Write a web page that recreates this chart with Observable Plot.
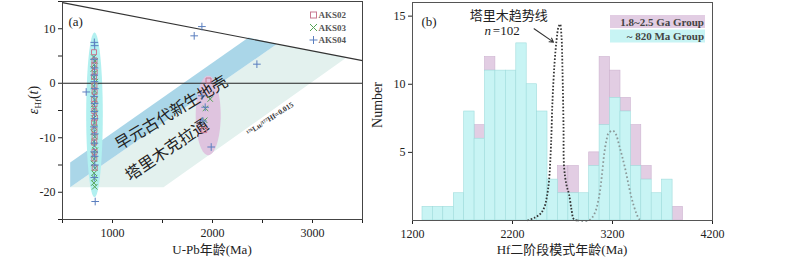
<!DOCTYPE html>
<html><head><meta charset="utf-8">
<script src="https://cdn.jsdelivr.net/npm/d3@7"></script>
<script src="https://cdn.jsdelivr.net/npm/@observablehq/plot@0.6"></script>
<style>
body{margin:0;background:#fff;}
#wrap{display:flex;width:800px;height:258px;overflow:hidden;}
#wrap svg{display:block;}
</style></head><body><div id="wrap"></div>
<script>
// ---------- Panel (a): U-Pb age vs eHf(t) ----------
const aks02Age = [815,820,818,822,816,819,821,817,820,818,823,816,819,821,817,820,818,822,1960,1917];
const aks02Eps = [5.7,4.2,3.3,2.1,1.2,-0.4,-1.6,-2.9,-3.8,-5.1,-6.3,-7.2,-8.6,-9.8,-10.9,-12.6,-13.8,-15.5,0.5,-8.6];
const aks03Age = [812,825,818,808,822,815,828,810,820,816,824,812,819,826,814,821,817,809,823,815,820,827,813,818,811,824,816,820,814,822,1977,1930,1922];
const aks03Eps = [4.8,4.1,3.4,2.6,1.9,1.1,0.3,-0.5,-1.4,-2.2,-3.0,-3.9,-4.7,-5.5,-6.4,-7.3,-8.1,-9.0,-9.8,-10.7,-11.5,-12.3,-13.1,-13.9,-14.7,-15.6,-16.5,-17.4,-18.3,-19.0,-2.9,-4.6,-6.8];
const aks04Age = [818,822,815,820,817,737,819,823,816,821,818,820,815,822,819,817,821,823,818,827,1817,1894,2444,1894,1927,1903,1987];
const aks04Eps = [7.5,6.9,4.4,2.8,1.5,-1.6,0.3,-1.0,-2.4,-3.7,-5.2,-6.5,-8.0,-9.3,-11.0,-12.6,-13.4,-15.0,-17.3,-21.7,8.7,10.4,3.5,-2.3,-4.4,-6.9,-11.7];
// depleted-mantle line and evolution bands (age, eHf)
const dmAge = [500, 3500];
const dmEps = [14.8, 4.15];
const juvenileAge = [577, 577, 2644, 2360];
const juvenileEps = [-14.55, -19.09, 7.2, 8.41];
const cratonAge = [577, 1510, 3344, 2644];
const cratonEps = [-19.09, -19.09, 4.75, 7.2];
// group ellipses: [centre age, centre eHf, half-width Ma, half-height eHf]
const ellipse820 = [820, -5.8, 83, 15.1];
const ellipse2000 = [1957, -5.9, 125, 7.3];

// ---------- Panel (b): Hf two-stage model age histogram ----------
const binEdges = [1300,1404,1508,1613,1717,1821,1925,2029,2134,2238,2342,2446,2550,2655,2759,2863,2967,3071,3176,3280,3384,3488,3592,3696,3801,3905];
const count820 = [1,1,1,2,8,6,11,11,11,13,10,8,3,2,2,2,4,7,9,8,4,3,2,3,0];
const countPaleo = [0,0,0,0,0,1,1,0,0,0,0,0,0,2,2,0,1,5,2,1,3,1,0,0,1];
const tarimAge = [2350,2420,2480,2520,2545,2565,2585,2600,2620,2640,2660,2676,2690,2700,2710,2716,2740,2766,2790,2813,2850];
const tarimN   = [0,0.2,0.5,1.0,1.8,2.9,5.5,8.8,11.5,13.2,14.2,14.4,13.5,11,7,3.9,2.6,1.9,0.8,0.1,0];
const kdeAge = [2850,2963,3020,3067,3095,3117,3140,3160,3200,3230,3267,3300,3333,3367,3400,3440,3467,3500];
const kdeN   = [0,0,0.5,1.8,3.4,4.9,5.9,6.4,6.6,6.4,5.5,4.6,3.6,2.4,1.4,0.5,0.1,0];

const serif = "'Liberation Serif','Times New Roman',serif";
const cjk = "'Noto Sans CJK SC','Noto Sans CJK JP',sans-serif";
const mixed = "'Liberation Serif','Noto Sans CJK SC',serif";

const pts = (xs, ys) => xs.map((x, i) => ({x, y: ys[i]}));
function ellipsePts([cx, cy, rx, ry]) {
  return d3.range(0, 361, 4).map(a => ({x: cx + rx * Math.cos(a * Math.PI / 180), y: cy + ry * Math.sin(a * Math.PI / 180)}));
}

const pa = Plot.plot({
  width: 365, height: 258,
  marginLeft: 62, marginRight: 3, marginTop: 1, marginBottom: 39,
  style: {fontFamily: serif, fontSize: "12px", color: "#222", background: "transparent"},
  x: {domain: [500, 3500], label: null},
  y: {domain: [-25, 15], label: null},
  marks: [
    Plot.line(pts(cratonAge, cratonEps), {x: "x", y: "y", fill: "#e3f1ee", stroke: "none"}),
    Plot.line(pts(juvenileAge, juvenileEps), {x: "x", y: "y", fill: "#aad6e8", stroke: "none"}),
    Plot.line(ellipsePts(ellipse820), {x: "x", y: "y", fill: "#b2f0f0", stroke: "none"}),
    Plot.line(ellipsePts(ellipse2000), {x: "x", y: "y", fill: "#dfc4df", stroke: "none"}),
    Plot.ruleY([0], {stroke: "#222", strokeWidth: 1.1}),
    Plot.line(pts(dmAge, dmEps), {x: "x", y: "y", stroke: "#333", strokeWidth: 1.1}),
    Plot.text(["早元古代新生地壳"], {x: 1590, y: -5.5, rotate: -31, fontSize: 16, fontFamily: cjk, fill: "#222"}),
    Plot.text(["塔里木克拉通"], {x: 1545, y: -12.3, rotate: -34, fontSize: 16, fontFamily: cjk, fill: "#222"}),
    Plot.text(["¹⁷⁶Lu/¹⁷⁷Hf=0.015"], {x: 2575, y: -6.5, rotate: -33, fontSize: 7.5, fontWeight: "bold", fill: "#333"}),
    Plot.dot(pts(aks03Age, aks03Eps), {x: "x", y: "y", symbol: "times", stroke: "#55a455", strokeWidth: 1, r: 2.6}),
    Plot.dot(pts(aks02Age, aks02Eps), {x: "x", y: "y", symbol: "square", stroke: "#c87890", fill: "none", strokeWidth: 1, r: 2.8}),
    Plot.dot(pts(aks04Age, aks04Eps), {x: "x", y: "y", symbol: "plus", stroke: "#5b7fbf", strokeWidth: 1, r: 2.6}),
    Plot.text(["(a)"], {frameAnchor: "top-left", dx: 6, dy: 15, textAnchor: "start", fontSize: 13}),
    Plot.axisX({ticks: d3.range(500, 3501, 500), tickFormat: d => d % 1000 === 0 ? String(d) : "", tickSize: 4, tickPadding: 5, label: null}),
    Plot.axisY({ticks: d3.range(-25, 16, 5), tickFormat: d => d % 10 === 0 ? String(d) : "", tickSize: 4, tickPadding: 3, label: null}),
    Plot.frame({stroke: "#444"})
  ]
});

const histRows = [];
count820.forEach((c, i) => {
  histRows.push({x1: binEdges[i], x2: binEdges[i + 1], y1: 0, y2: c, g: "820"});
  if (countPaleo[i] > 0) histRows.push({x1: binEdges[i], x2: binEdges[i + 1], y1: c, y2: c + countPaleo[i], g: "paleo"});
});

const pb = Plot.plot({
  width: 435, height: 258,
  marginLeft: 47, marginRight: 88, marginTop: 2, marginBottom: 38,
  style: {fontFamily: serif, fontSize: "12px", color: "#222", background: "transparent"},
  x: {domain: [1200, 4200], label: null},
  y: {domain: [0, 16], label: null},
  marks: [
    Plot.rect(histRows.filter(d => d.g === "paleo"), {x1: "x1", x2: "x2", y1: "y1", y2: "y2", fill: "#e2cde3", stroke: "#cdb3d0", strokeWidth: 0.6}),
    Plot.rect(histRows.filter(d => d.g === "820" && d.y2 > 0), {x1: "x1", x2: "x2", y1: "y1", y2: "y2", fill: "#c8f4f4", stroke: "#9fdcdc", strokeWidth: 0.6}),
    Plot.line(pts(kdeAge, kdeN), {x: "x", y: "y", stroke: "#8a9898", strokeWidth: 1.8, strokeDasharray: "1.6 2.4", strokeLinecap: "butt", curve: "catmull-rom"}),
    Plot.line(pts(tarimAge, tarimN), {x: "x", y: "y", stroke: "#333", strokeWidth: 1.8, strokeDasharray: "1.6 1.8", strokeLinecap: "butt", curve: "catmull-rom"}),
    Plot.arrow([{x1: 2416, y1: 14.07, x2: 2610, y2: 13.09}], {x1: "x1", y1: "y1", x2: "x2", y2: "y2", stroke: "#333", strokeWidth: 1.1, headLength: 6, bend: 0}),
    Plot.text(["塔里木趋势线"], {x: 2163, y: 15.05, fontSize: 13, fontFamily: cjk, fill: "#222"}),
    Plot.text(["n"], {x: 2103, y: 13.9, dx: -15, fontStyle: "italic", fontSize: 13}),
    Plot.text(["=102"], {x: 2103, y: 13.9, dx: -10, textAnchor: "start", fontSize: 13}),
    Plot.text(["(b)"], {frameAnchor: "top-left", dx: 9, dy: 14, textAnchor: "start", fontSize: 13}),
    Plot.axisX({ticks: [1200, 2200, 3200, 4200], tickFormat: d => String(d), tickSize: 4, tickPadding: 5, label: null}),
    Plot.axisY({ticks: [5, 10, 15], tickFormat: d => String(d), tickSize: 4, tickPadding: 3, label: null}),
    Plot.frame({stroke: "#555"})
  ]
});

const wrap = document.getElementById("wrap");
wrap.appendChild(pa);
wrap.appendChild(pb);

// axis titles and legends
const sa = d3.select(pa);
const ya = sa.append("text").attr("transform", "translate(38,100) rotate(-90)").attr("text-anchor", "middle")
  .style("font-family", serif).style("font-size", "14px").attr("fill", "#222");
ya.append("tspan").style("font-style", "italic").text("ε");
ya.append("tspan").attr("dy", 3).style("font-size", "9px").text("Hf");
ya.append("tspan").attr("dy", -3).text("(");
ya.append("tspan").style("font-style", "italic").text("t");
ya.append("tspan").text(")");
sa.append("text").attr("x", 212).attr("y", 254).attr("text-anchor", "middle")
  .style("font-family", mixed).style("font-size", "13px").attr("fill", "#222").text("U-Pb年龄(Ma)");

const leg = [["AKS02", "square", "#c87890"], ["AKS03", "times", "#55a455"], ["AKS04", "plus", "#5b7fbf"]];
leg.forEach(([name, sym, col], i) => {
  const cx = 313.5, cy = 15 + i * 12.5;
  const g = sa.append("g").attr("stroke", col).attr("fill", "none").attr("stroke-width", 1);
  if (sym === "square") g.append("rect").attr("x", cx - 3).attr("y", cy - 3).attr("width", 6).attr("height", 6);
  if (sym === "times") g.append("path").attr("d", `M${cx-3.5},${cy-3.5}L${cx+3.5},${cy+3.5}M${cx-3.5},${cy+3.5}L${cx+3.5},${cy-3.5}`);
  if (sym === "plus") g.append("path").attr("d", `M${cx-4},${cy}L${cx+4},${cy}M${cx},${cy-4}L${cx},${cy+4}`);
  sa.append("text").attr("x", 318.5).attr("y", cy + 3.2).attr("text-anchor", "start").style("font-family", serif).style("font-size", "9px")
    .style("font-weight", "bold").attr("fill", "#555").text(name);
});

const sb = d3.select(pb);
sb.append("text").attr("transform", "translate(17,105) rotate(-90)").attr("text-anchor", "middle")
  .style("font-family", serif).style("font-size", "14px").attr("fill", "#222").text("Number");
sb.append("text").attr("x", 197).attr("y", 254).attr("text-anchor", "middle")
  .style("font-family", mixed).style("font-size", "13px").attr("fill", "#222").text("Hf二阶段模式年龄(Ma)");
const legB = [["1.8~2.5 Ga Group", "#e2cde3"], ["~ 820 Ma Group", "#c8f4f4"]];
legB.forEach(([name, col], i) => {
  const y0 = 15 + i * 14.5;
  sb.append("rect").attr("x", 245).attr("y", y0).attr("width", 95).attr("height", 13).attr("fill", col);
  sb.append("text").attr("x", 339).attr("y", y0 + 10.5).attr("text-anchor", "end").style("font-family", serif)
    .style("font-size", "11px").style("font-weight", "bold").attr("fill", "#444").text(name);
});
</script></body></html>
